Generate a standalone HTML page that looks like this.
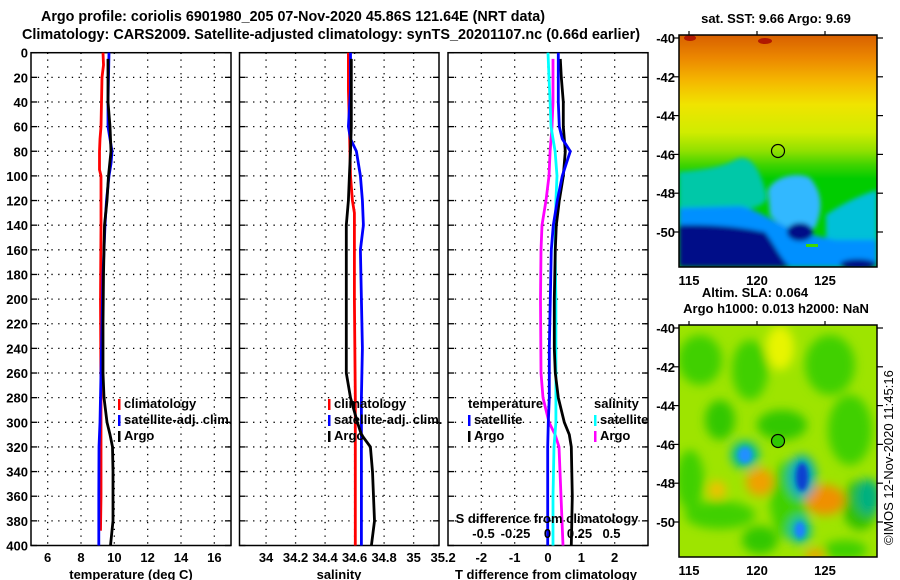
<!DOCTYPE html>
<html><head><meta charset="utf-8"><style>
html,body{margin:0;padding:0;background:#fff;}
svg{display:block;font-family:"Liberation Sans",sans-serif;font-weight:bold;}
</style></head><body>
<svg id="fig" width="900" height="580" viewBox="0 0 900 580">
<defs>
<linearGradient id="sstg" x1="0" y1="0" x2="0" y2="1">
<stop offset="0" stop-color="#d86000"/><stop offset="0.1" stop-color="#ec8800"/><stop offset="0.2" stop-color="#f5b800"/>
<stop offset="0.3" stop-color="#f0e400"/><stop offset="0.42" stop-color="#d0ec00"/><stop offset="0.5" stop-color="#90e000"/>
<stop offset="0.56" stop-color="#40d400"/><stop offset="0.62" stop-color="#00cc00"/><stop offset="1" stop-color="#00cc00"/>
</linearGradient>
<clipPath id="m1c"><rect x="679" y="35" width="198" height="232"/></clipPath>
<clipPath id="m2c"><rect x="679" y="325" width="198" height="232"/></clipPath>
<filter id="bl" x="-20%" y="-20%" width="140%" height="140%"><feGaussianBlur stdDeviation="5"/></filter>
<filter id="bl2" x="-20%" y="-20%" width="140%" height="140%"><feGaussianBlur stdDeviation="2.5"/></filter>
</defs>
<text x="41" y="21" font-size="15" textLength="504" lengthAdjust="spacingAndGlyphs">Argo profile: coriolis 6901980_205 07-Nov-2020 45.86S 121.64E (NRT data)</text>
<text x="22" y="39" font-size="15" textLength="618" lengthAdjust="spacingAndGlyphs">Climatology: CARS2009. Satellite-adjusted climatology: synTS_20201107.nc (0.66d earlier)</text>
<g id="panels"></g>
<g id="maps">
<text x="776" y="23" font-size="13" text-anchor="middle">sat. SST: 9.66 Argo: 9.69</text>
<g clip-path="url(#m1c)">
<rect x="679" y="35" width="198" height="232" fill="url(#sstg)"/>
<g filter="url(#bl2)">
<path d="M679,172 C700,170 720,168 735,160 C750,152 760,170 765,190 C770,205 765,212 679,214Z" fill="#00c8a8"/>
<path d="M768,190 C775,175 800,172 810,178 C820,190 825,205 815,228 C800,232 780,228 770,215Z" fill="#30b8ff"/>
<path d="M826,215 C840,205 860,195 877,190 L877,267 L826,267Z" fill="#00c0d8"/>
<path d="M679,208 L740,206 C760,210 780,226 800,232 L835,240 L877,240 L877,267 L679,267Z" fill="#0090ff"/>
<path d="M679,225 C720,224 745,228 765,232 C775,245 780,258 790,267 L679,267Z" fill="#000888"/>
<ellipse cx="800" cy="232" rx="13" ry="9" fill="#000888"/>
<ellipse cx="858" cy="264" rx="18" ry="5" fill="#000888"/>
</g>
<rect x="806" y="244" width="12" height="3" fill="#40d800"/>
<ellipse cx="690" cy="38" rx="6" ry="3" fill="#b01800"/>
<ellipse cx="765" cy="41" rx="7" ry="3" fill="#b01800"/>
</g>
<rect x="679" y="35" width="198" height="232" fill="none" stroke="#000" stroke-width="1.5"/>
<circle cx="778" cy="151" r="6.5" fill="none" stroke="#000" stroke-width="1.2"/>
<text x="755" y="297" font-size="13" text-anchor="middle">Altim. SLA: 0.064</text>
<text x="776" y="313" font-size="13" text-anchor="middle">Argo h1000: 0.013 h2000: NaN</text>
<g clip-path="url(#m2c)">
<rect x="679" y="325" width="198" height="232" fill="#9ee400"/>
<g filter="url(#bl)">
<ellipse cx="700" cy="360" rx="22" ry="25" fill="#40d000"/>
<ellipse cx="750" cy="370" rx="18" ry="30" fill="#40d000"/>
<ellipse cx="830" cy="365" rx="25" ry="30" fill="#40d000"/>
<ellipse cx="720" cy="420" rx="15" ry="20" fill="#30c800"/>
<ellipse cx="782" cy="425" rx="25" ry="15" fill="#30c800"/>
<ellipse cx="850" cy="430" rx="22" ry="35" fill="#40d000"/>
<ellipse cx="690" cy="480" rx="14" ry="30" fill="#40d000"/>
<ellipse cx="720" cy="515" rx="35" ry="14" fill="#40d000"/>
<ellipse cx="790" cy="500" rx="20" ry="40" fill="#40d000"/>
<ellipse cx="760" cy="540" rx="18" ry="14" fill="#30c800"/>
<ellipse cx="860" cy="505" rx="18" ry="25" fill="#30c000"/>
<ellipse cx="845" cy="550" rx="22" ry="10" fill="#40d000"/>
<ellipse cx="780" cy="348" rx="14" ry="22" fill="#e8f400"/>
<ellipse cx="760" cy="482" rx="14" ry="14" fill="#f0a000"/>
<ellipse cx="717" cy="490" rx="9" ry="9" fill="#f0c000"/>
<ellipse cx="825" cy="500" rx="20" ry="15" fill="#f09000"/>
<ellipse cx="815" cy="555" rx="10" ry="6" fill="#f0a000"/>
<ellipse cx="745" cy="455" rx="14" ry="14" fill="#00b8a0"/>
<ellipse cx="802" cy="477" rx="14" ry="22" fill="#00a8c0"/>
<ellipse cx="800" cy="530" rx="11" ry="14" fill="#00b8b0"/>
<ellipse cx="868" cy="497" rx="12" ry="18" fill="#00b080"/>
</g>
<g filter="url(#bl2)">
<ellipse cx="745" cy="455" rx="7" ry="8" fill="#2090ff"/>
<ellipse cx="802" cy="477" rx="6" ry="14" fill="#1040d0"/>
<ellipse cx="800" cy="530" rx="5" ry="8" fill="#2080ff"/>
</g>
</g>
<rect x="679" y="325" width="198" height="232" fill="none" stroke="#000" stroke-width="1.5"/>
<circle cx="778" cy="441" r="6.5" fill="#30c800" stroke="#000" stroke-width="1.2"/>
<text transform="translate(893,545) rotate(-90)" font-size="13" font-weight="normal">©IMOS 12-Nov-2020 11:45:16</text>
<g id="mapaxes"></g>
</g>
</svg>
<script>
// ---- data ----
const depthTicks=[0,20,40,60,80,100,120,140,160,180,200,220,240,260,280,300,320,340,360,380,400];
const tempTicks=[6,8,10,12,14,16];
const salTicks=[34,34.2,34.4,34.6,34.8,35,35.2];
const salTickLabels=["34","34.2","34.4","34.6","34.8","35","35.2"];
const tdiffTicks=[-2,-1,0,1,2];
const sdiffTicks=[-0.5,-0.25,0,0.25,0.5];
const sdiffTickLabels=["-0.5","-0.25","0","0.25","0.5"];

const tClimDepth=[0,10,20,40,60,70,80,95,100,140,200,280,360,388];
const tClimVal=[9.32,9.35,9.26,9.23,9.20,9.14,9.11,9.11,9.20,9.20,9.17,9.20,9.20,9.17];
const tSatDepth=[0,20,40,60,70,80,90,100,120,140,180,220,260,300,320,360,400];
const tSatVal=[9.68,9.65,9.62,9.62,9.74,9.86,9.80,9.68,9.53,9.44,9.32,9.26,9.20,9.14,9.08,9.07,9.07];
const tArgoDepth=[5,40,60,80,100,120,140,180,220,260,280,300,310,320,340,380,400];
const tArgoVal=[9.62,9.62,9.74,9.80,9.65,9.56,9.41,9.35,9.32,9.32,9.38,9.56,9.74,9.89,9.92,9.92,9.77];

const sClimDepth=[0,30,60,100,120,130,160,200,280,400];
const sClimVal=[34.558,34.558,34.565,34.572,34.585,34.599,34.599,34.599,34.605,34.605];
const sSatDepth=[0,30,60,70,80,90,100,120,140,160,200,240,280,300,400];
const sSatVal=[34.572,34.572,34.558,34.572,34.612,34.626,34.639,34.653,34.660,34.639,34.646,34.653,34.646,34.646,34.646];
const sArgoDepth=[5,60,80,100,120,140,160,200,260,280,300,310,320,340,380,400];
const sArgoVal=[34.578,34.578,34.572,34.565,34.558,34.544,34.544,34.544,34.544,34.572,34.619,34.646,34.707,34.721,34.735,34.714];

const dtSatDepth=[0,20,40,60,70,80,90,100,120,140,160,200,240,280,300,320,360,400];
const dtSatVal=[0.31,0.31,0.31,0.34,0.43,0.67,0.55,0.43,0.28,0.16,0.10,0.07,0.04,0.04,0.01,-0.01,-0.01,-0.01];
const dtArgoDepth=[5,20,40,60,80,100,120,140,160,200,240,260,280,300,310,320,360,400];
const dtArgoVal=[0.37,0.40,0.46,0.46,0.52,0.46,0.34,0.25,0.22,0.19,0.19,0.22,0.31,0.49,0.64,0.70,0.73,0.70];
const dsSatDepth=[0,20,40,60,80,100,120,160,200,250,300,320,360,400];
const dsSatVal=[0.004,0.012,0.02,0.027,0.059,0.074,0.066,0.059,0.066,0.066,0.066,0.051,0.043,0.043];
const dsArgoDepth=[5,40,60,80,100,120,140,160,200,260,280,300,310,320,340,380,400];
const dsArgoVal=[0.043,0.043,0.035,0.02,0.012,-0.012,-0.043,-0.051,-0.055,-0.051,-0.035,0.012,0.059,0.09,0.098,0.113,0.121];

const lonTicks=[115,120,125];
const latTicks=[-40,-42,-44,-46,-48,-50];

// ---- drawing ----
const NS="http://www.w3.org/2000/svg";
const panels=document.getElementById('panels');
function mk(tag,attrs,parent){const e=document.createElementNS(NS,tag);for(const k in attrs)e.setAttribute(k,attrs[k]);(parent||panels).appendChild(e);return e;}
const Y0=52.7,Y1=545.5;
function yD(d){return Y0+(d/400)*(Y1-Y0);}

function panel(name,x0,x1,vmin,vmax){
  const g=mk('g',{});
  
  
  return {g,x0,x1,sx:v=>x0+(v-vmin)/(vmax-vmin)*(x1-x0)};
}
function grid(p,xt){
  depthTicks.forEach(d=>{if(d>0&&d<400){const l=mk('line',{x1:p.x0,x2:p.x1,y1:yD(d),y2:yD(d),stroke:'#000','stroke-width':1.3,'stroke-dasharray':'1.3 5.5'},p.g);
    
    }});
  xt.forEach(v=>{const x=p.sx(v);if(x>p.x0+1&&x<p.x1-1){const l=mk('line',{x1:x,x2:x,y1:Y0,y2:Y1,stroke:'#000','stroke-width':1.3,'stroke-dasharray':'1.3 5.5'},p.g);
    
    }});
  depthTicks.forEach(d=>{mk('line',{x1:p.x0,x2:p.x0+6,y1:yD(d),y2:yD(d),stroke:'#000','stroke-width':1.3},p.g);mk('line',{x1:p.x1-6,x2:p.x1,y1:yD(d),y2:yD(d),stroke:'#000','stroke-width':1.3},p.g);});
  const r=mk('rect',{x:p.x0,y:Y0,width:p.x1-p.x0,height:Y1-Y0,fill:'none',stroke:'#000','stroke-width':1.5},p.g);
  
  
}
function series(p,depths,vals,color,name,sx){
  sx=sx||p.sx;
  let d='';
  for(let i=0;i<depths.length;i++){const x=sx(vals[i]).toFixed(1),y=yD(depths[i]).toFixed(1);d+=(i?'L':'M')+x+','+y;}
  const pa=mk('path',{d:d,fill:'none',stroke:color,'stroke-width':2.8,'stroke-linejoin':'miter'},p.g);
  
  
}
function xlabels(p,ticks,labels,y,sx){
  sx=sx||p.sx;
  ticks.forEach((v,i)=>{const t=mk('text',{x:sx(v),y:y,'font-size':13,'text-anchor':'middle'},p.g);t.textContent=labels?labels[i]:String(v);
    
    });
}
function legend(p,items,x,y){
  items.forEach((it,i)=>{const yy=y+i*16;
    if(it.c){const r=mk('rect',{x:x,y:yy-9,width:2.5,height:11,fill:it.c},p.g);}
    const t=mk('text',{x:x+(it.c?6:0),y:yy,'font-size':13},p.g);t.textContent=it.t;
    
    });
}

depthTicks.forEach(d=>{const t=mk('text',{x:28,y:yD(d)+5,'font-size':13,'text-anchor':'end'});t.textContent=d;
  
  });

const p1=panel('temperature-panel',31,231,5,17);
grid(p1,tempTicks);
series(p1,tClimDepth,tClimVal,'#f00','temp-climatology-line');
series(p1,tSatDepth,tSatVal,'#00f','temp-satellite-line');
series(p1,tArgoDepth,tArgoVal,'#000','temp-argo-line');
xlabels(p1,tempTicks,null,562);
legend(p1,[{t:'climatology',c:'#f00'},{t:'satellite-adj. clim.',c:'#00f'},{t:'Argo',c:'#000'}],118,408);
let tt=mk('text',{x:131,y:579,'font-size':13,'text-anchor':'middle'},p1.g);tt.textContent='temperature (deg C)';



const p2=panel('salinity-panel',239.5,439,33.82,35.172);
grid(p2,salTicks);
series(p2,sClimDepth,sClimVal,'#f00','sal-climatology-line');
series(p2,sSatDepth,sSatVal,'#00f','sal-satellite-line');
series(p2,sArgoDepth,sArgoVal,'#000','sal-argo-line');
xlabels(p2,salTicks,salTickLabels,562);
legend(p2,[{t:'climatology',c:'#f00'},{t:'satellite-adj. clim.',c:'#00f'},{t:'Argo',c:'#000'}],328,408);
tt=mk('text',{x:339,y:579,'font-size':13,'text-anchor':'middle'},p2.g);tt.textContent='salinity';



const p3=panel('difference-panel',448,648,-3,3);
const sxS=v=>547.5+v*128;
grid(p3,tdiffTicks);
series(p3,dsArgoDepth,dsArgoVal,'#f0f','sal-diff-argo-line',sxS);
series(p3,dsSatDepth,dsSatVal,'#0ff','sal-diff-satellite-line',sxS);
series(p3,dtArgoDepth,dtArgoVal,'#000','temp-diff-argo-line');
series(p3,dtSatDepth,dtSatVal,'#00f','temp-diff-satellite-line');
xlabels(p3,tdiffTicks,null,562);
xlabels(p3,sdiffTicks,sdiffTickLabels,538,sxS);
legend(p3,[{t:'temperature'},{t:'satellite',c:'#00f'},{t:'Argo',c:'#000'}],468,408);
legend(p3,[{t:'salinity'},{t:'satellite',c:'#0ff'},{t:'Argo',c:'#f0f'}],594,408);
tt=mk('text',{x:547,y:523,'font-size':13,'text-anchor':'middle'},p3.g);tt.textContent='S difference from climatology';


tt=mk('text',{x:546,y:579,'font-size':13,'text-anchor':'middle'},p3.g);tt.textContent='T difference from climatology';



const ma=document.getElementById('mapaxes');
const lonX=v=>689+(v-115)*13.6;
const latY=v=>(-40-v)*19.4;
[35,325].forEach((top,mi)=>{
  const base=top+3;
  latTicks.forEach(v=>{const y=base+latY(v);
    const t=mk('text',{x:675,y:y+5,'font-size':13,'text-anchor':'end'},ma);t.textContent=String(v);
    
    
    mk('line',{x1:877,x2:883,y1:y,y2:y,stroke:'#000','stroke-width':1.2},ma);
    mk('line',{x1:673,x2:679,y1:y,y2:y,stroke:'#000','stroke-width':1.2},ma);});
  lonTicks.forEach(v=>{const x=lonX(v);
    const t=mk('text',{x:x,y:top+232+18,'font-size':13,'text-anchor':'middle'},ma);t.textContent=String(v);
    
    
    mk('line',{x1:x,x2:x,y1:top-4,y2:top,stroke:'#000','stroke-width':1.2},ma);});
});
</script>
</body></html>
